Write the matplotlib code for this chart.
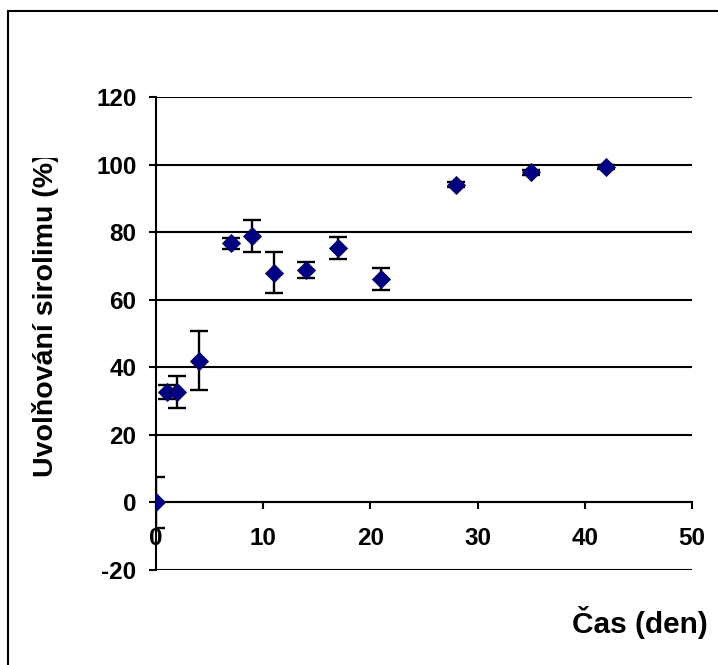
import matplotlib.pyplot as plt
from matplotlib.patches import Rectangle
from matplotlib.transforms import Bbox

plt.rcParams['font.family'] = ['Liberation Sans', 'DejaVu Sans']
plt.rcParams['font.weight'] = 'bold'
plt.rcParams['axes.unicode_minus'] = False

# data
cas = [0, 1, 2, 4, 7, 9, 11, 14, 17, 21, 28, 35, 42]
uvolneni = [0, 32.7, 32.7, 42.0, 76.7, 78.9, 68.0, 68.8, 75.3, 66.1, 94.1, 97.7, 99.2]
chyba = [7.5, 2.1, 4.7, 8.6, 1.6, 4.7, 6.1, 2.5, 3.3, 3.2, 0.8, 0.8, 0.6]
x_ticks = [0, 10, 20, 30, 40, 50]
y_ticks = [-20, 0, 20, 40, 60, 80, 100, 120]

W, H = 718, 665
fig = plt.figure(figsize=(W / 100, H / 100), dpi=100)
ax = fig.add_axes([156 / W, 1 - 570 / H, (692 - 156) / W, (570 - 97) / H])

# outer frame (cut at right and bottom like in the original)
fig.patches.append(Rectangle((8 / W, -0.05), 1.1, 1 - 11 / H + 0.05,
                             transform=fig.transFigure, fill=False,
                             edgecolor='black', linewidth=1.5))

for yt in y_ticks:
    ax.axhline(yt, color='black', linewidth=1.5, zorder=1)

ax.errorbar(cas, uvolneni, yerr=chyba, fmt='none', ecolor='black',
            elinewidth=1.7, capsize=6.5, capthick=1.7, zorder=2)
ax.plot(cas, uvolneni, linestyle='none', marker='D', markersize=9,
        markerfacecolor='#000080', markeredgecolor='#000050',
        markeredgewidth=0.6, zorder=3)

ax.set_xlim(0, 50)
ax.set_ylim(-20, 120)
ax.set_xticks(x_ticks)
ax.set_yticks(y_ticks)

ax.spines['top'].set_visible(False)
ax.spines['right'].set_visible(False)
ax.spines['bottom'].set_position(('data', 0))
ax.spines['bottom'].set_linewidth(1.5)
ax.spines['left'].set_linewidth(1.5)

ax.tick_params(axis='x', direction='out', length=5, width=1.5, pad=13, labelsize=17.5)
ax.tick_params(axis='y', direction='out', length=5, width=1.5, pad=9, labelsize=17.5)
for lab in ax.get_xticklabels() + ax.get_yticklabels():
    lab.set_fontweight('bold')

ylab = fig.text(46 / W, 1 - 477 / H, 'Uvolňování sirolimu (%)', rotation=90,
                ha='center', va='bottom', fontsize=20.5, fontweight='bold')
# the label is cut at the top in the original
ylab.set_clip_box(Bbox([[0, 0], [W, H - 158]]))
ylab.set_clip_on(True)

fig.text(708 / W, 1 - 633 / H, 'Čas (den)', ha='right', va='baseline',
         fontsize=21.5, fontweight='bold')

fig.savefig('out.png', dpi=100)
